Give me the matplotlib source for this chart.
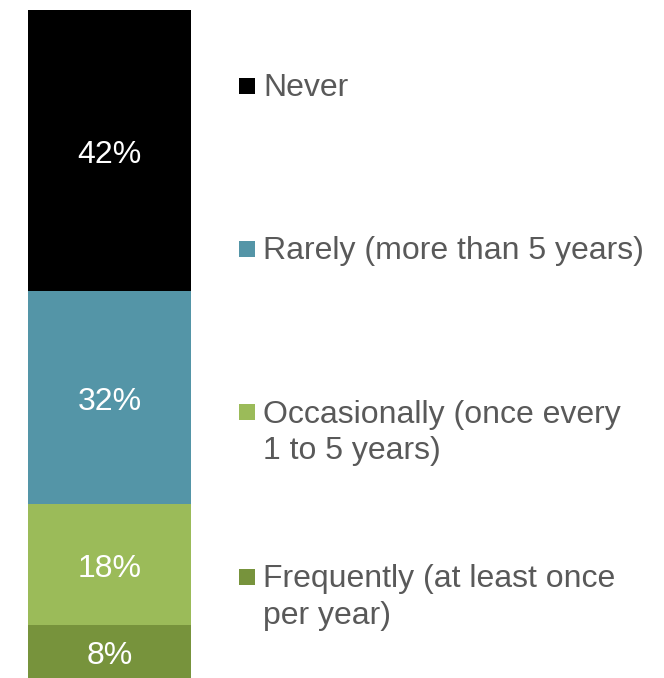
import matplotlib
matplotlib.use("Agg")
import matplotlib.pyplot as plt
from matplotlib.patches import Rectangle

plt.rcParams['font.family'] = ['Liberation Sans', 'DejaVu Sans']

categories = ["Frequently (at least once\nper year)",
              "Occasionally (once every\n1 to 5 years)",
              "Rarely (more than 5 years)",
              "Never"]
values = [8, 18, 32, 42]
colors = ["#77933C", "#9BBB59", "#5495A7", "#000000"]
legend_y_px = [577, 412, 249, 86]

W, H = 664, 678
fig = plt.figure(figsize=(W / 100, H / 100), dpi=100)
ax = fig.add_axes([28 / W, 0, (191 - 28) / W, 668 / H])

bottom = 0
for v, c in zip(values, colors):
    ax.bar(0, v, bottom=bottom, width=1.0, color=c, linewidth=0)
    ax.annotate(f"{v}%", (0, bottom + v / 2), xytext=(0, -3.5),
                textcoords="offset points", ha="center", va="center",
                color="white", fontsize=23)
    bottom += v

ax.set_xlim(-0.5, 0.5)
ax.set_ylim(0, sum(values))
ax.axis("off")

# Legend (manual, marker aligned with first text line)
for cat, c, ypx in zip(categories, colors, legend_y_px):
    sq = 15.5
    fig.patches.append(Rectangle((239 / W, 1 - (ypx + sq / 2) / H), sq / W, sq / H,
                                 transform=fig.transFigure, color=c, linewidth=0))
    for i, line in enumerate(cat.split("\n")):
        base = ypx + 10.5 + i * 36.5
        fig.text(263 / W, 1 - base / H, line, ha="left", va="baseline",
                 color="#595959", fontsize=23)

fig.savefig("out.png", dpi=100)
